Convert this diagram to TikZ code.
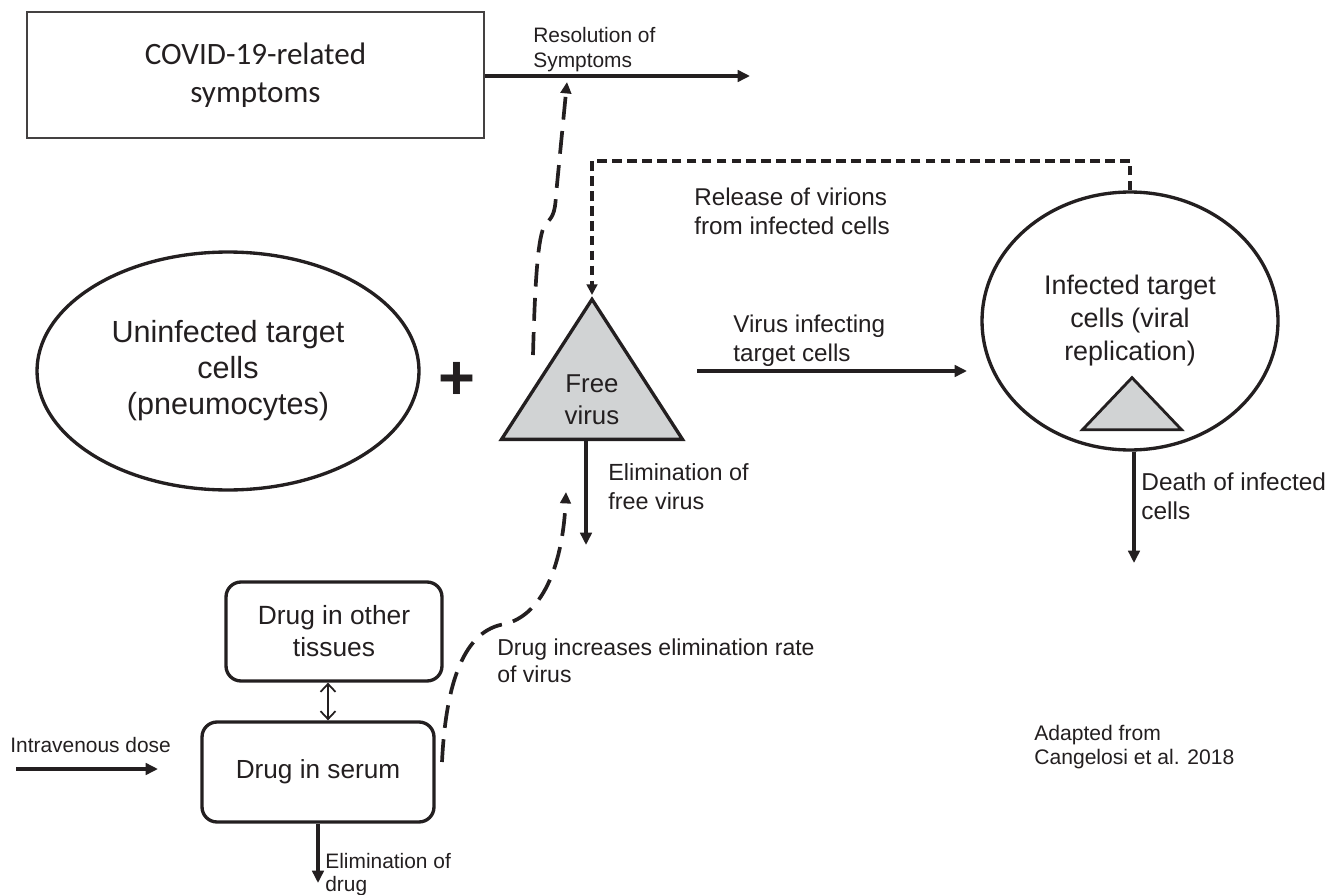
\documentclass[tikz,border=0pt]{standalone}
\usepackage{fontspec}
\setmainfont{Liberation Sans}
\newfontfamily\boxfont{Carlito}
\usepackage{xcolor}
\usetikzlibrary{arrows.meta,shapes.geometric,calc}
\definecolor{ink}{RGB}{35,31,32}
\definecolor{virusgray}{RGB}{209,211,212}

\begin{document}
\begin{tikzpicture}[x=0.02cm, y=-0.02cm,
  every node/.style={text=ink},
  cell/.style={draw=ink, ellipse, line width=1.9pt, inner sep=0pt, align=center},
  drugbox/.style={draw=ink, rounded corners=0.3cm, line width=1.9pt, align=center, inner sep=0pt},
  virustri/.style={draw=ink, fill=virusgray, isosceles triangle, shape border rotate=90,
                   isosceles triangle stretches, inner sep=0pt, line width=1.9pt},
  lbl/.style={anchor=north west, align=left, inner sep=0pt},
  flow/.style={draw=ink, line width=1.9pt, -{Triangle[length=7pt,width=6.5pt]}},
  effect/.style={draw=ink, line width=2.1pt, dash pattern=on 13pt off 6.5pt,
                 -{Triangle[length=6.5pt,width=6pt]}},
  release/.style={draw=ink, line width=2.2pt, dash pattern=on 5.5pt off 3pt,
                  -{Triangle[length=6pt,width=6pt]}},
  exchange/.style={draw=ink, line width=1pt,
                   {Straight Barb[length=4.5pt,width=8.5pt]}-{Straight Barb[length=4.5pt,width=8.5pt]}},
]
  \useasboundingbox (0,0) rectangle (1328,895);

  % --- Symptoms box ---
  \node[draw=ink!85, line width=1.1pt, minimum width=9.14cm, minimum height=2.52cm,
        inner sep=0pt, align=center, font=\boxfont\fontsize{17.7}{21.6}\selectfont]
        (covid) at (255.5,75) {COVID-19-related\\symptoms};

  % --- Cells and virus ---
  \node[cell, minimum width=7.64cm, minimum height=4.76cm, font=\fontsize{17.4}{20.5}\selectfont]
        (uninf) at (228,371) {Uninfected target\\cells\\(pneumocytes)};
  \node[font=\bfseries\fontsize{36}{40}\selectfont, inner sep=0pt] (plus) at (457,381) {+};
  \node[virustri, minimum width=3.62cm, minimum height=2.8cm, anchor=apex] (virus) at (592,295) {};
  \node[font=\fontsize{14.7}{18.2}\selectfont, align=center, inner sep=0pt] (viruslbl) at (592,400) {Free\\virus};
  \node[cell, minimum width=5.92cm, minimum height=5.16cm, font=\fontsize{15.3}{18.8}\selectfont]
        (infected) at (1130,321) {Infected target\\cells (viral\\replication)};
  \node[virustri, minimum width=1.98cm, minimum height=1.04cm, anchor=apex, line width=1.6pt]
        (progeny) at (1132,374) {};

  % --- Drug compartments ---
  \node[drugbox, minimum width=4.32cm, minimum height=1.98cm, font=\fontsize{15}{18.2}\selectfont]
        (tissues) at (334,631.5) {Drug in other\\tissues};
  \node[drugbox, minimum width=4.64cm, minimum height=2cm, font=\fontsize{14.9}{18}\selectfont]
        (serum) at (318,772) {Drug in serum};

  % --- Free ends ---
  \coordinate (resolved)  at (750,76);
  \coordinate (infstart)  at (697,371);
  \coordinate (infend)    at (967,371);
  \coordinate (virusout)  at (586,545);
  \coordinate (deathout)  at (1134,563);
  \coordinate (ivstart)   at (16,769);
  \coordinate (ivend)     at (158,769);
  \coordinate (drugout)   at (318,883);
  \coordinate (topline)   at (0,161);
  \coordinate (symstart)  at (533,355);
  \coordinate (symend)    at (567,82);
  \coordinate (drugstart) at (442,762);
  \coordinate (drugend)   at (566,492);

  % --- Solid flows ---
  \draw[flow] (covid.east |- resolved) -- (resolved);
  \draw[flow] (infstart) -- (infend);
  \draw[flow] (virus.lower side -| virusout) -- (virusout);
  \draw[flow] (infected.south -| deathout) -- (deathout);
  \draw[flow] (ivstart) -- (ivend);
  \draw[flow] (serum.south) -- (drugout);
  \draw[exchange] ([xshift=-0.12cm]tissues.south) -- ([xshift=-0.12cm]tissues.south |- serum.north);

  % --- Dashed effects ---
  \draw[release] (infected.north) -- (infected.north |- topline) -| (virus.apex);
  \draw[effect] (symstart) .. controls (535,280) and (538,235) .. (545,225)
                .. controls (552,217) and (555,215) .. (556,195) -- (symend);
  \draw[effect] (drugstart) .. controls (446,680) and (465,630) .. (505,624)
                .. controls (545,614) and (563,560) .. (drugend);

  % --- Labels ---
  \node[lbl, font=\fontsize{11.9}{14.2}\selectfont] (resolbl) at (533,27) {Resolution of\\Symptoms};
  \node[lbl, font=\fontsize{13.8}{16}\selectfont] (releaselbl) at (694,188) {Release of virions\\from infected cells};
  \node[lbl, font=\fontsize{13.8}{16}\selectfont] (infectlbl) at (733,315) {Virus infecting\\target cells};
  \node[lbl, font=\fontsize{13.3}{16.5}\selectfont] (elimlbl) at (608,463) {Elimination of\\free virus};
  \node[lbl, font=\fontsize{13.9}{16.5}\selectfont] (deathlbl) at (1141,472) {Death of infected\\cells};
  \node[lbl, font=\fontsize{13.1}{15.4}\selectfont] (druglbl) at (497,638) {Drug increases elimination rate\\of virus};
  \node[lbl, font=\fontsize{12}{13.7}\selectfont] (sourcelbl) at (1034,725) {Adapted from\\Cangelosi et al. 2018};
  \node[lbl, font=\fontsize{11.9}{14}\selectfont] (ivlbl) at (10,737) {Intravenous dose};
  \node[lbl, font=\fontsize{11.9}{13}\selectfont] (drugelimlbl) at (325,853) {Elimination of\\drug};

\end{tikzpicture}
\end{document}
